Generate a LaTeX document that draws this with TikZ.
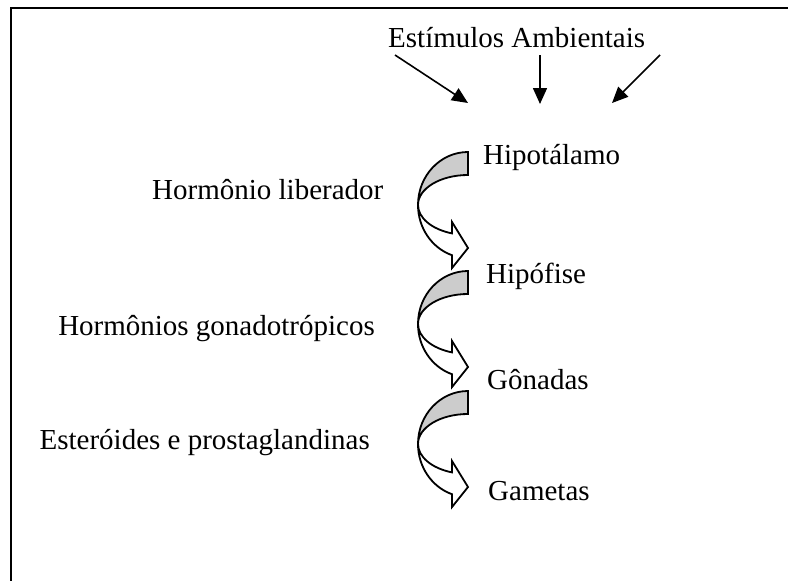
\documentclass[tikz,border=0pt]{standalone}
\usepackage{fontspec}
\setmainfont{Liberation Serif}
\usetikzlibrary{arrows.meta}
\definecolor{bandgray}{RGB}{204,204,204}
\tikzset{
  lbl/.style={inner sep=0pt, font=\fontsize{29}{35}\selectfont},
  frameline/.style={line width=2pt},
  stimarrow/.style={line width=1.6pt, -{Triangle[length=16pt,width=14pt]}},
  blockline/.style={line width=1.8pt, line join=miter}
}
\newcommand\bentblockarrow[1]{%
  \begin{scope}[shift={(468,#1)}]
    \draw[blockline, fill=white] (-50pt,0pt)
      arc[start angle=180, end angle=251.3, x radius=50pt, y radius=53pt]
      -- (-16pt,-63pt) -- (0pt,-43pt) -- (-16pt,-17pt) -- (-16pt,-28.4pt)
      arc[start angle=251.3, end angle=180, x radius=50pt, y radius=30pt]
      -- cycle;
    \draw[blockline, fill=bandgray] (0pt,53pt)
      arc[start angle=90, end angle=180, x radius=50pt, y radius=53pt]
      arc[start angle=180, end angle=90, x radius=50pt, y radius=30pt]
      -- cycle;
  \end{scope}}
\begin{document}
\begin{tikzpicture}[x=1pt, y=-1pt]
  \useasboundingbox (0,0) rectangle (788,581);
  % open frame
  \draw[frameline] (11,581) -- (11,8) -- (788,8);
  % texts
  \node[lbl, anchor=base west] (est) at (388,47) {Estímulos Ambientais};
  \node[lbl, anchor=base west] (hip) at (483,164) {Hipotálamo};
  \node[lbl, anchor=base west] (hl)  at (152,199) {Hormônio liberador};
  \node[lbl, anchor=base west] (hf)  at (486,283) {Hipófise};
  \node[lbl, anchor=base east] (hg)  at (375,335) {Hormônios gonadotrópicos};
  \node[lbl, anchor=base west] (gon) at (487,389) {Gônadas};
  \node[lbl, anchor=base east] (esp) at (370,449) {Esteróides e prostaglandinas};
  \node[lbl, anchor=base west] (gam) at (488,500) {Gametas};
  % stimulus arrows
  \coordinate (s1a) at (395,55);  \coordinate (s1b) at (468,103);
  \coordinate (s2a) at (540,55);  \coordinate (s2b) at (540,104);
  \coordinate (s3a) at (660,55);  \coordinate (s3b) at (612,103);
  \draw[stimarrow] (s1a) -- (s1b);
  \draw[stimarrow] (s2a) -- (s2b);
  \draw[stimarrow] (s3a) -- (s3b);
  % curved block arrows
  \bentblockarrow{205}
  \bentblockarrow{324}
  \bentblockarrow{444}
\end{tikzpicture}
\end{document}
